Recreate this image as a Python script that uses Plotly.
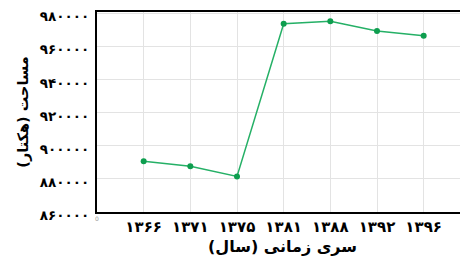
import plotly.graph_objects as go

years = ["۱۳۶۶", "۱۳۷۱", "۱۳۷۵", "۱۳۸۱", "۱۳۸۸", "۱۳۹۲", "۱۳۹۶"]
area = [890700, 887700, 881500, 973900, 975400, 969500, 966700]
y_tickvals = [860000, 880000, 900000, 920000, 940000, 960000, 980000]
y_ticktext = ["۸۶۰۰۰۰", "۸۸۰۰۰۰", "۹۰۰۰۰۰", "۹۲۰۰۰۰", "۹۴۰۰۰۰", "۹۶۰۰۰۰", "۹۸۰۰۰۰"]

fig = go.Figure()
fig.add_trace(go.Scatter(
    x=years, y=area, mode="lines+markers",
    line=dict(color="#25b066", width=1.5),
    marker=dict(color="#0e9e4f", size=6),
))

font_family = "DejaVu Sans"
# page body has an 8px default margin, so the figure is sized to fit the window
fig.update_layout(
    width=460, height=265,
    margin=dict(l=89, r=0, t=4, b=61),
    paper_bgcolor="white", plot_bgcolor="white",
    showlegend=False,
    font=dict(family=font_family, color="black"),
)
fig.update_xaxes(
    type="category", range=[-1, 6.95], automargin=False,
    showgrid=True, gridcolor="#e3e3e3", gridwidth=1,
    showline=True, linecolor="black", linewidth=2, mirror=True,
    ticks="", tickfont=dict(size=15, family=font_family, weight="bold"),
    ticklabeloverflow="allow",
    title=dict(text="<b>سری زمانی (سال)</b>", font=dict(size=16), standoff=6),
)
fig.update_yaxes(
    range=[860000, 981000], automargin=False,
    tickvals=y_tickvals, ticktext=y_ticktext,
    showgrid=True, gridcolor="#e3e3e3", gridwidth=1,
    showline=True, linecolor="black", linewidth=2, mirror=True,
    zeroline=False, ticklabeloverflow="allow",
    ticklabelshift=3, ticklabelstandoff=3,
    ticks="", tickfont=dict(size=13.5, family=font_family, weight="bold"),
    title=dict(text="<b>مساحت (هکتار)</b>", font=dict(size=14.5), standoff=8),
)
fig.add_annotation(text="0", x=0, y=0, xref="paper", yref="paper",
                   xanchor="center", yanchor="top", showarrow=False,
                   font=dict(size=6, color="#999999"), yshift=-1)

fig.write_html("out.html")
